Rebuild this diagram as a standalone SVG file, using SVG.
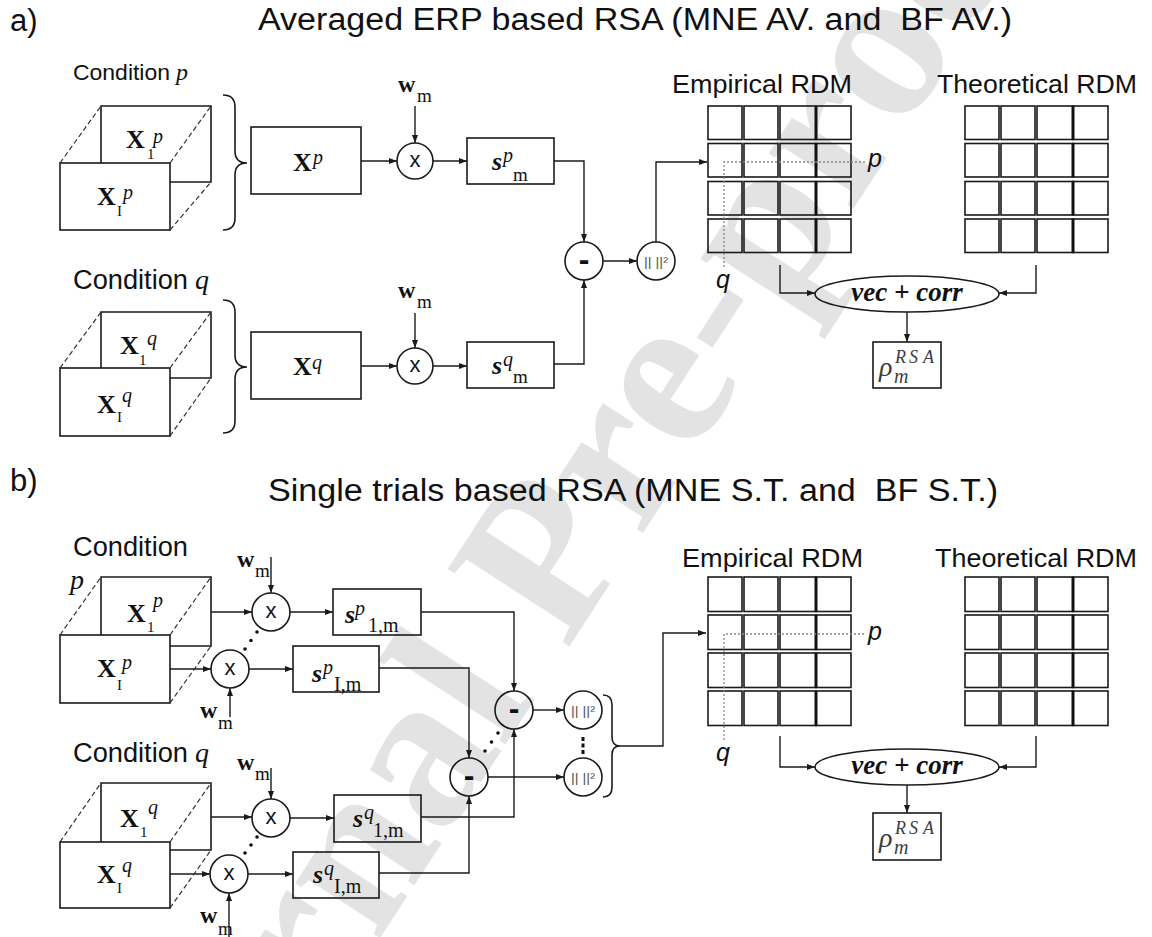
<svg xmlns="http://www.w3.org/2000/svg" width="1152" height="937" viewBox="0 0 1152 937">
<style>
.sans{font-family:"Liberation Sans",Arial,sans-serif;fill:#111}
.ser{font-family:"Liberation Serif","Times New Roman",serif;fill:#111}
.b{font-weight:bold}
.i{font-style:italic}
.arr{fill:none;stroke:#1a1a1a;stroke-width:1.4;marker-end:url(#ah)}
.box{fill:none;stroke:#1a1a1a;stroke-width:1.6}
.dsh{fill:none;stroke:#333;stroke-width:1.2;stroke-dasharray:5 3}
.dot{fill:none;stroke:#888;stroke-width:1.3;stroke-dasharray:2 2}
.cell{fill:none;stroke:#1a1a1a;stroke-width:1.6}
.thick{fill:none;stroke:#111;stroke-width:3}
.dd{fill:#111}
.nrm{font-family:"Liberation Sans",Arial,sans-serif;fill:#555;white-space:pre}
.wm{font-family:"Liberation Serif","Times New Roman",serif;font-weight:bold;fill:#e3e3e3}
.rho{font-family:"Liberation Serif","Times New Roman",serif;font-style:italic;fill:#3a3d45}
</style>
<defs>
<marker id="ah" viewBox="0 0 8 6" refX="8" refY="3" markerWidth="8" markerHeight="6" markerUnits="userSpaceOnUse" orient="auto"><path d="M0,0L8,3L0,6z" fill="#1a1a1a"/></marker>
</defs>
<rect width="1152" height="937" fill="#fff"/>
<g id="watermark"><text class="wm" font-size="220" transform="translate(137,1312) rotate(-57)">Journal Pre-proof</text></g>

<g id="titles">
<text class="sans" x="10" y="31" font-size="31">a)</text>
<text class="sans" x="258" y="30" font-size="31" textLength="754" lengthAdjust="spacingAndGlyphs" xml:space="preserve" style="white-space:pre">Averaged ERP based RSA (MNE AV. and  BF AV.)</text>
<text class="sans" x="10" y="491" font-size="31">b)</text>
<text class="sans" x="268" y="501" font-size="31" textLength="730" lengthAdjust="spacingAndGlyphs" xml:space="preserve" style="white-space:pre">Single trials based RSA (MNE S.T. and  BF S.T.)</text>
</g>

<g id="connectors">
<line class="arr" x1="361" y1="161" x2="397" y2="161"/>
<line class="arr" x1="415" y1="106" x2="415" y2="143"/>
<line class="arr" x1="433" y1="161" x2="467" y2="161"/>
<path class="arr" d="M554,161H584V242"/>
<line class="arr" x1="361" y1="366" x2="397" y2="366"/>
<line class="arr" x1="415" y1="313" x2="415" y2="348"/>
<line class="arr" x1="433" y1="366" x2="467" y2="366"/>
<path class="arr" d="M554,364H584V280"/>
<line class="arr" x1="603" y1="261" x2="637" y2="261"/>
<path class="arr" d="M656,242V162H707"/>
<path class="arr" d="M780,265V293H815"/>
<path class="arr" d="M1036,265V293H999"/>
<line class="arr" x1="907" y1="312" x2="907" y2="342"/>
<line class="arr" x1="211" y1="612" x2="252" y2="612"/>
<line class="arr" x1="271" y1="557" x2="271" y2="593"/>
<line class="arr" x1="290" y1="612" x2="333" y2="612"/>
<line class="arr" x1="170" y1="669" x2="211" y2="669"/>
<line class="arr" x1="230" y1="717" x2="230" y2="688"/>
<line class="arr" x1="249" y1="669" x2="293" y2="669"/>
<path class="arr" d="M421,612H514V691"/>
<path class="arr" d="M379,668H469V758"/>
<line class="arr" x1="211" y1="817" x2="252" y2="817"/>
<line class="arr" x1="271" y1="768" x2="271" y2="799"/>
<line class="arr" x1="290" y1="818" x2="334" y2="818"/>
<line class="arr" x1="170" y1="874" x2="210" y2="874"/>
<line class="arr" x1="229" y1="937" x2="229" y2="893"/>
<line class="arr" x1="248" y1="874" x2="293" y2="874"/>
<path class="arr" d="M421,817H514V729"/>
<path class="arr" d="M379,873H469V796"/>
<line class="arr" x1="533" y1="710" x2="564" y2="710"/>
<line class="arr" x1="488" y1="777" x2="564" y2="777"/>
<path class="arr" d="M620,746H663V633H706"/>
<path class="arr" d="M780,736V767H815"/>
<path class="arr" d="M1036,736V767H999"/>
<line class="arr" x1="907" y1="785" x2="907" y2="813"/>
<circle class="dd" cx="257" cy="632" r="1.8"/><circle class="dd" cx="251" cy="640.5" r="1.8"/><circle class="dd" cx="245" cy="649" r="1.8"/>
<circle class="dd" cx="257" cy="837" r="1.8"/><circle class="dd" cx="251" cy="845" r="1.8"/><circle class="dd" cx="245" cy="853" r="1.8"/>
<circle class="dd" cx="498" cy="733" r="1.8"/><circle class="dd" cx="491.5" cy="742" r="1.8"/><circle class="dd" cx="485" cy="751" r="1.8"/>
<rect class="dd" x="581.5" y="737" width="3" height="4"/><rect class="dd" x="581.5" y="743.5" width="3" height="4"/><rect class="dd" x="581.5" y="750" width="3" height="4"/>
</g>

<g id="cond-p-a">
<text class="sans" x="73" y="80" font-size="22" textLength="97" lengthAdjust="spacingAndGlyphs">Condition</text>
<text class="ser i" x="176" y="80" font-size="24">p</text>
<path class="box" d="M101,163V106H211V182H170"/>
<rect class="box" x="60" y="163" width="110" height="67"/>
<path class="dsh" d="M60,163L101,106M170,163L211,106M170,230L211,182"/>
<text class="ser" font-size="26"><tspan class="b" x="126" y="148">X</tspan><tspan x="147" y="159" font-size="15">1</tspan><tspan class="i" x="153" y="143" font-size="20">p</tspan></text>
<text class="ser" font-size="26"><tspan class="b" x="97" y="205">X</tspan><tspan x="117" y="216" font-size="15">I</tspan><tspan class="i" x="123" y="199" font-size="20">p</tspan></text>
<path class="box" d="M223,95Q235,95 235,107V151Q235,163 247,163Q235,163 235,175V218Q235,230 223,230"/>
</g>
<g id="avg-p">
<rect class="box" x="251" y="127" width="110" height="67"/>
<text class="ser" font-size="26"><tspan class="b" x="293" y="171">X</tspan><tspan class="i" x="313" y="164" font-size="20">p</tspan></text>
</g>
<g id="mul-p-a">
<circle class="box" cx="415" cy="161" r="18"/>
<text class="sans" x="415" y="167" font-size="22" text-anchor="middle">x</text>
<text class="ser" font-size="19"><tspan class="b" x="398" y="92" font-size="24">w</tspan><tspan x="417" y="102">m</tspan></text>
</g>
<g id="s-p-a">
<rect class="box" x="467" y="138" width="87" height="46"/>
<text class="ser" font-size="19"><tspan class="b i" x="492" y="170" font-size="26">s</tspan><tspan class="i" x="503" y="162" font-size="20">p</tspan><tspan x="513" y="181">m</tspan></text>
</g>
<g id="cond-q-a">
<text class="sans" x="73" y="289" font-size="27" textLength="115" lengthAdjust="spacingAndGlyphs">Condition</text>
<text class="ser i" x="195" y="289" font-size="28">q</text>
<path class="box" d="M101,368V312H211V378H170"/>
<rect class="box" x="60" y="368" width="110" height="68"/>
<path class="dsh" d="M60,368L101,312M170,368L211,312M170,436L211,378"/>
<text class="ser" font-size="26"><tspan class="b" x="120" y="354">X</tspan><tspan x="139" y="365" font-size="15">1</tspan><tspan class="i" x="147" y="345" font-size="20">q</tspan></text>
<text class="ser" font-size="26"><tspan class="b" x="97" y="413">X</tspan><tspan x="117" y="422" font-size="15">I</tspan><tspan class="i" x="122" y="402" font-size="20">q</tspan></text>
<path class="box" d="M223,300Q235,300 235,312V355Q235,367 247,367Q235,367 235,379V421Q235,433 223,433"/>
</g>
<g id="avg-q">
<rect class="box" x="251" y="332" width="110" height="67"/>
<text class="ser" font-size="26"><tspan class="b" x="293" y="375">X</tspan><tspan class="i" x="312" y="369" font-size="20">q</tspan></text>
</g>
<g id="mul-q-a">
<circle class="box" cx="415" cy="366" r="18"/>
<text class="sans" x="415" y="372" font-size="22" text-anchor="middle">x</text>
<text class="ser" font-size="19"><tspan class="b" x="398" y="298" font-size="24">w</tspan><tspan x="417" y="308">m</tspan></text>
</g>
<g id="s-q-a">
<rect class="box" x="467" y="342" width="87" height="46"/>
<text class="ser" font-size="19"><tspan class="b i" x="492" y="374" font-size="26">s</tspan><tspan class="i" x="503" y="366" font-size="20">q</tspan><tspan x="513" y="383">m</tspan></text>
</g>
<g id="minus-a">
<circle class="box" cx="584" cy="261" r="19"/>
<text class="sans b" x="584" y="270" font-size="32" text-anchor="middle">-</text>
</g>
<g id="norm-a">
<circle class="box" cx="656" cy="261" r="19"/>
<text class="nrm" x="644" y="266" font-size="13" textLength="24" lengthAdjust="spacingAndGlyphs" xml:space="preserve">|| ||²</text>
</g>
<g id="emp-rdm-a">
<text class="sans" x="672" y="93" font-size="26" textLength="180" lengthAdjust="spacingAndGlyphs">Empirical RDM</text>
<rect class="cell" x="708" y="106" width="34" height="33.5"/><rect class="cell" x="744" y="106" width="34" height="33.5"/><rect class="cell" x="780" y="106" width="36" height="33.5"/><rect class="cell" x="816" y="106" width="35" height="33.5"/>
<rect class="cell" x="708" y="143.5" width="34" height="33.5"/><rect class="cell" x="744" y="143.5" width="34" height="33.5"/><rect class="cell" x="780" y="143.5" width="36" height="33.5"/><rect class="cell" x="816" y="143.5" width="35" height="33.5"/>
<rect class="cell" x="708" y="181.5" width="34" height="33.5"/><rect class="cell" x="744" y="181.5" width="34" height="33.5"/><rect class="cell" x="780" y="181.5" width="36" height="33.5"/><rect class="cell" x="816" y="181.5" width="35" height="33.5"/>
<rect class="cell" x="708" y="219" width="34" height="33.5"/><rect class="cell" x="744" y="219" width="34" height="33.5"/><rect class="cell" x="780" y="219" width="36" height="33.5"/><rect class="cell" x="816" y="219" width="35" height="33.5"/>
<path class="thick" d="M816,106V139.5M816,143.5V177M816,181.5V215M816,219V252.5"/>
<path class="dot" d="M724,267V162H865"/>
<text class="sans i" x="868" y="167" font-size="25">p</text>
<text class="sans i" x="716" y="288" font-size="25">q</text>
</g>
<g id="theo-rdm-a">
<text class="sans" x="937" y="93" font-size="26" textLength="200" lengthAdjust="spacingAndGlyphs">Theoretical RDM</text>
<rect class="cell" x="965" y="106" width="34" height="33.5"/><rect class="cell" x="1001" y="106" width="34" height="33.5"/><rect class="cell" x="1037" y="106" width="36" height="33.5"/><rect class="cell" x="1073" y="106" width="35" height="33.5"/>
<rect class="cell" x="965" y="143.5" width="34" height="33.5"/><rect class="cell" x="1001" y="143.5" width="34" height="33.5"/><rect class="cell" x="1037" y="143.5" width="36" height="33.5"/><rect class="cell" x="1073" y="143.5" width="35" height="33.5"/>
<rect class="cell" x="965" y="181.5" width="34" height="33.5"/><rect class="cell" x="1001" y="181.5" width="34" height="33.5"/><rect class="cell" x="1037" y="181.5" width="36" height="33.5"/><rect class="cell" x="1073" y="181.5" width="35" height="33.5"/>
<rect class="cell" x="965" y="219" width="34" height="33.5"/><rect class="cell" x="1001" y="219" width="34" height="33.5"/><rect class="cell" x="1037" y="219" width="36" height="33.5"/><rect class="cell" x="1073" y="219" width="35" height="33.5"/>
<path class="thick" d="M1073,106V139.5M1073,143.5V177M1073,181.5V215M1073,219V252.5"/>
</g>
<g id="veccorr-a">
<ellipse class="box" cx="907" cy="294" rx="92" ry="18"/>
<text class="ser b i" x="907" y="301" font-size="27" text-anchor="middle">vec + corr</text>
</g>
<g id="rho-a">
<rect class="box" x="873" y="342" width="68" height="46"/>
<text class="rho" font-size="28"><tspan x="879" y="376">ρ</tspan><tspan x="895" y="363" font-size="18">R</tspan><tspan x="909" y="363" font-size="18">S</tspan><tspan x="923" y="363" font-size="18">A</tspan><tspan x="894" y="383" font-size="20">m</tspan></text>
</g>

<g id="cond-p-b">
<text class="sans" x="73" y="556" font-size="27" textLength="115" lengthAdjust="spacingAndGlyphs">Condition</text>
<text class="ser i" x="70" y="589" font-size="28">p</text>
<path class="box" d="M101,635V577H211V646H170"/>
<rect class="box" x="60" y="635" width="110" height="68"/>
<path class="dsh" d="M60,635L101,577M170,635L211,577M170,703L211,646"/>
<text class="ser" font-size="26"><tspan class="b" x="127" y="622">X</tspan><tspan x="147" y="632" font-size="15">1</tspan><tspan class="i" x="153" y="607" font-size="20">p</tspan></text>
<text class="ser" font-size="26"><tspan class="b" x="97" y="677">X</tspan><tspan x="117" y="690" font-size="15">I</tspan><tspan class="i" x="122" y="669" font-size="20">p</tspan></text>
</g>
<g id="mul-p1-b">
<circle class="box" cx="271" cy="612" r="19"/>
<text class="sans" x="271" y="618" font-size="22" text-anchor="middle">x</text>
<text class="ser" font-size="19"><tspan class="b" x="237" y="567" font-size="24">w</tspan><tspan x="255" y="577">m</tspan></text>
</g>
<g id="mul-pI-b">
<circle class="box" cx="230" cy="669" r="19"/>
<text class="sans" x="230" y="675" font-size="22" text-anchor="middle">x</text>
<text class="ser" font-size="19"><tspan class="b" x="200" y="718" font-size="24">w</tspan><tspan x="218" y="729">m</tspan></text>
</g>
<g id="s-p1-b">
<rect class="box" x="333" y="589" width="88" height="46"/>
<text class="ser" font-size="20"><tspan class="b i" x="345" y="623" font-size="26">s</tspan><tspan class="i" x="355" y="615">p</tspan><tspan x="368" y="632">1,m</tspan></text>
</g>
<g id="s-pI-b">
<rect class="box" x="293" y="646" width="86" height="46"/>
<text class="ser" font-size="20"><tspan class="b i" x="312" y="682" font-size="26">s</tspan><tspan class="i" x="323" y="674">p</tspan><tspan x="334" y="691">I,m</tspan></text>
</g>
<g id="cond-q-b">
<text class="sans" x="73" y="762" font-size="27" textLength="115" lengthAdjust="spacingAndGlyphs">Condition</text>
<text class="ser i" x="195" y="762" font-size="28">q</text>
<path class="box" d="M101,842V783H211V850H170"/>
<rect class="box" x="60" y="842" width="110" height="66"/>
<path class="dsh" d="M60,842L101,783M170,842L211,783M170,908L211,850"/>
<text class="ser" font-size="26"><tspan class="b" x="120" y="827">X</tspan><tspan x="140" y="837" font-size="15">1</tspan><tspan class="i" x="148" y="814" font-size="20">q</tspan></text>
<text class="ser" font-size="26"><tspan class="b" x="97" y="883">X</tspan><tspan x="117" y="893" font-size="15">I</tspan><tspan class="i" x="122" y="872" font-size="20">q</tspan></text>
</g>
<g id="mul-q1-b">
<circle class="box" cx="271" cy="818" r="19"/>
<text class="sans" x="271" y="824" font-size="22" text-anchor="middle">x</text>
<text class="ser" font-size="19"><tspan class="b" x="237" y="770" font-size="24">w</tspan><tspan x="255" y="780">m</tspan></text>
</g>
<g id="mul-qI-b">
<circle class="box" cx="229" cy="874" r="19"/>
<text class="sans" x="229" y="880" font-size="22" text-anchor="middle">x</text>
<text class="ser" font-size="19"><tspan class="b" x="200" y="923" font-size="24">w</tspan><tspan x="218" y="935">m</tspan></text>
</g>
<g id="s-q1-b">
<rect class="box" x="334" y="795" width="87" height="47"/>
<text class="ser" font-size="20"><tspan class="b i" x="353" y="827" font-size="26">s</tspan><tspan class="i" x="364" y="819">q</tspan><tspan x="373" y="837">1,m</tspan></text>
</g>
<g id="s-qI-b">
<rect class="box" x="293" y="852" width="86" height="46"/>
<text class="ser" font-size="20"><tspan class="b i" x="313" y="883" font-size="26">s</tspan><tspan class="i" x="324" y="875">q</tspan><tspan x="334" y="893">I,m</tspan></text>
</g>
<g id="minus1-b">
<circle class="box" cx="514" cy="710" r="19"/>
<text class="sans b" x="514" y="719" font-size="32" text-anchor="middle">-</text>
</g>
<g id="minusI-b">
<circle class="box" cx="469" cy="777" r="19"/>
<text class="sans b" x="469" y="786" font-size="32" text-anchor="middle">-</text>
</g>
<g id="norm1-b">
<circle class="box" cx="583" cy="710" r="19"/>
<text class="nrm" x="571" y="715" font-size="13" textLength="24" lengthAdjust="spacingAndGlyphs" xml:space="preserve">|| ||²</text>
</g>
<g id="normI-b">
<circle class="box" cx="583" cy="777" r="19"/>
<text class="nrm" x="571" y="782" font-size="13" textLength="24" lengthAdjust="spacingAndGlyphs" xml:space="preserve">|| ||²</text>
</g>
<g id="brace-b">
<path class="box" d="M603,695Q612,695 612,705V737Q612,746 620,746Q612,746 612,755V787Q612,797 603,797"/>
</g>
<g id="emp-rdm-b">
<text class="sans" x="682" y="567" font-size="26" textLength="181" lengthAdjust="spacingAndGlyphs">Empirical RDM</text>
<rect class="cell" x="708" y="577" width="34" height="34.5"/><rect class="cell" x="744" y="577" width="34" height="34.5"/><rect class="cell" x="780" y="577" width="36" height="34.5"/><rect class="cell" x="816" y="577" width="35" height="34.5"/>
<rect class="cell" x="708" y="615" width="34" height="34.5"/><rect class="cell" x="744" y="615" width="34" height="34.5"/><rect class="cell" x="780" y="615" width="36" height="34.5"/><rect class="cell" x="816" y="615" width="35" height="34.5"/>
<rect class="cell" x="708" y="653" width="34" height="34.5"/><rect class="cell" x="744" y="653" width="34" height="34.5"/><rect class="cell" x="780" y="653" width="36" height="34.5"/><rect class="cell" x="816" y="653" width="35" height="34.5"/>
<rect class="cell" x="708" y="691" width="34" height="34.5"/><rect class="cell" x="744" y="691" width="34" height="34.5"/><rect class="cell" x="780" y="691" width="36" height="34.5"/><rect class="cell" x="816" y="691" width="35" height="34.5"/>
<path class="thick" d="M816,577V611.5M816,615V649.5M816,653V687.5M816,691V725.5"/>
<path class="dot" d="M724,740V634H865"/>
<text class="sans i" x="868" y="640" font-size="25">p</text>
<text class="sans i" x="716" y="761" font-size="25">q</text>
</g>
<g id="theo-rdm-b">
<text class="sans" x="935" y="567" font-size="26" textLength="202" lengthAdjust="spacingAndGlyphs">Theoretical RDM</text>
<rect class="cell" x="965" y="577" width="34" height="34.5"/><rect class="cell" x="1001" y="577" width="34" height="34.5"/><rect class="cell" x="1037" y="577" width="36" height="34.5"/><rect class="cell" x="1073" y="577" width="35" height="34.5"/>
<rect class="cell" x="965" y="615" width="34" height="34.5"/><rect class="cell" x="1001" y="615" width="34" height="34.5"/><rect class="cell" x="1037" y="615" width="36" height="34.5"/><rect class="cell" x="1073" y="615" width="35" height="34.5"/>
<rect class="cell" x="965" y="653" width="34" height="34.5"/><rect class="cell" x="1001" y="653" width="34" height="34.5"/><rect class="cell" x="1037" y="653" width="36" height="34.5"/><rect class="cell" x="1073" y="653" width="35" height="34.5"/>
<rect class="cell" x="965" y="691" width="34" height="34.5"/><rect class="cell" x="1001" y="691" width="34" height="34.5"/><rect class="cell" x="1037" y="691" width="36" height="34.5"/><rect class="cell" x="1073" y="691" width="35" height="34.5"/>
<path class="thick" d="M1073,577V611.5M1073,615V649.5M1073,653V687.5M1073,691V725.5"/>
</g>
<g id="veccorr-b">
<ellipse class="box" cx="907" cy="767" rx="92" ry="18"/>
<text class="ser b i" x="907" y="774" font-size="27" text-anchor="middle">vec + corr</text>
</g>
<g id="rho-b">
<rect class="box" x="873" y="813" width="68" height="47"/>
<text class="rho" font-size="28"><tspan x="879" y="847">ρ</tspan><tspan x="895" y="834" font-size="18">R</tspan><tspan x="909" y="834" font-size="18">S</tspan><tspan x="923" y="834" font-size="18">A</tspan><tspan x="894" y="854" font-size="20">m</tspan></text>
</g>
</svg>
